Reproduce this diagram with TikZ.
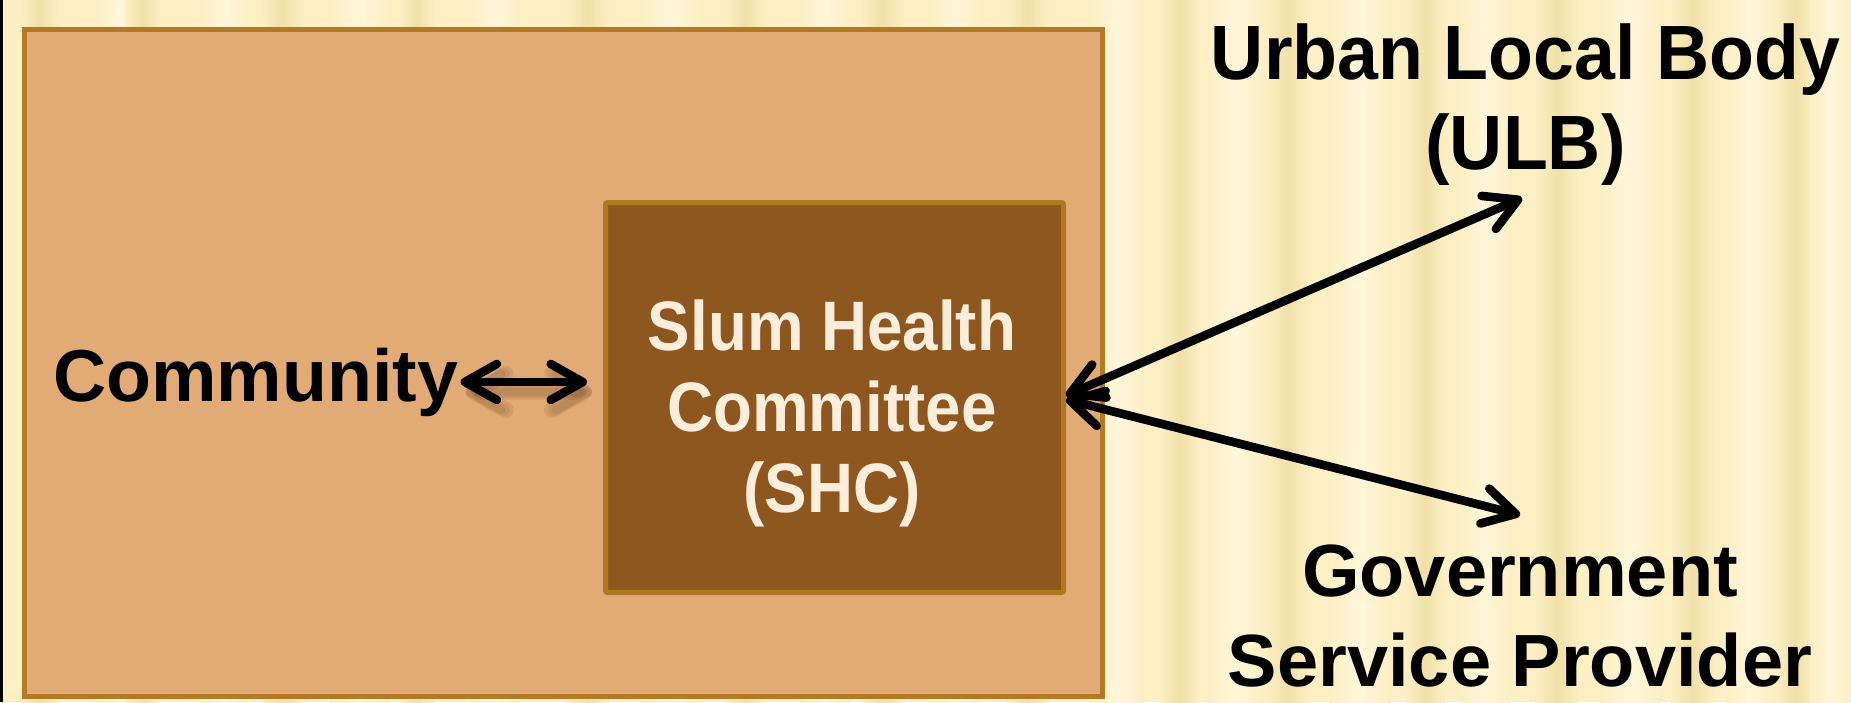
\documentclass[tikz,border=0pt]{standalone}
\usepackage{fontspec}
\setmainfont{Liberation Sans}
\newfontfamily\shcfont[FakeStretch=0.91]{Liberation Sans}
\newfontfamily\ulbfont[FakeStretch=0.955]{Liberation Sans}
\usetikzlibrary{arrows.meta}
\definecolor{bgcream}{HTML}{FCEFC4}
\definecolor{streakdark}{HTML}{F0E0A8}
\definecolor{streaklight}{HTML}{FFF6DA}
\definecolor{outerfill}{HTML}{E2AA75}
\definecolor{outerline}{HTML}{B47A23}
\definecolor{shcfill}{HTML}{8F5720}
\definecolor{shcline}{HTML}{B07820}
\definecolor{shctext}{HTML}{FDEEDC}
\definecolor{shadowcol}{HTML}{5A3A1A}
\begin{document}
\begin{tikzpicture}[x=0.5pt,y=-0.5pt,
  barb/.tip={Straight Barb[length=16pt,width=18pt,line cap=round,line join=round]},
  link/.style={line width=4.3pt,line cap=round,line join=round,barb-barb},
  blacktext/.style={inner sep=0pt,text=black},
  streak/.style={left color=bgcream,right color=bgcream,middle color=#1}]
% background
\useasboundingbox (0,0) rectangle (1851,702);
\fill[bgcream] (0,0) rectangle (1851,702);
\foreach \xa/\wa/\c in {
  20/40/streakdark, 95/50/streaklight, 125/35/streakdark, 200/50/streaklight,
  260/45/streakdark, 330/60/streaklight, 400/35/streakdark, 470/50/streaklight,
  565/45/streakdark, 640/60/streaklight, 725/40/streakdark, 800/50/streaklight,
  860/45/streakdark, 930/50/streaklight, 1005/45/streakdark, 1090/55/streaklight,
  1160/40/streakdark, 1205/60/streaklight, 1265/45/streakdark, 1330/60/streaklight,
  1405/40/streakdark, 1460/50/streaklight, 1535/45/streakdark, 1600/60/streaklight,
  1670/45/streakdark, 1725/50/streaklight, 1775/40/streakdark, 1810/40/streaklight}
  {\shade[streak=\c] (\xa,0) rectangle ++(\wa,702);}
\fill[black] (0,0) rectangle (3,702);
% outer community box
\draw[line width=2.2pt,draw=outerline,fill=outerfill] (24.5,29.5) rectangle (1102.5,696.5);
% SHC box
\node[draw=shcline,fill=shcfill,line width=2.5pt,rounded corners=1pt,
  minimum width=229pt,minimum height=195pt,inner sep=0pt] (shc) at (834.5,397.5) {};
\node[inner sep=0pt,anchor=base,text=shctext,
  font=\shcfont\bfseries\fontsize{35}{40.5}\selectfont] (shctext) at (832,350)
  {\begin{tabular}[t]{@{}c@{}}Slum Health\\Committee\\(SHC)\end{tabular}};
% labels
\node[blacktext,anchor=base west,font=\bfseries\fontsize{36.8}{44}\selectfont] (community) at (53,401) {Community};
\node[blacktext,anchor=base,font=\ulbfont\bfseries\fontsize{38.5}{45}\selectfont] (ulb) at (1525.5,79)
  {\begin{tabular}[t]{@{}c@{}}Urban Local Body\\(ULB)\end{tabular}};
\node[blacktext,anchor=base,font=\bfseries\fontsize{37}{45}\selectfont] (gov) at (1520,596)
  {\begin{tabular}[t]{@{}c@{}}Government\\Service Provider\end{tabular}};
% connector ends
\coordinate (comout) at ([xshift=1pt]community.east);
\coordinate (shcin) at ([xshift=-8pt]shc.west |- community.east);
\coordinate (ulbend) at (1522,198);
\coordinate (govend) at (1520,515);
% shadow of community arrow
\begin{scope}[transform canvas={shift={(2.5pt,-5pt)}}]
  \foreach \lw in {4,6,8}
    \draw[link,line width=\lw pt,draw=shadowcol,opacity=0.1] (comout) -- (shcin);
\end{scope}
% connectors
\draw[link] (comout) -- (shcin);
\draw[link] ([yshift=1pt]shc.east) -- (ulbend);
\draw[link] ([yshift=-1pt]shc.east) -- (govend);
\end{tikzpicture}
\end{document}
